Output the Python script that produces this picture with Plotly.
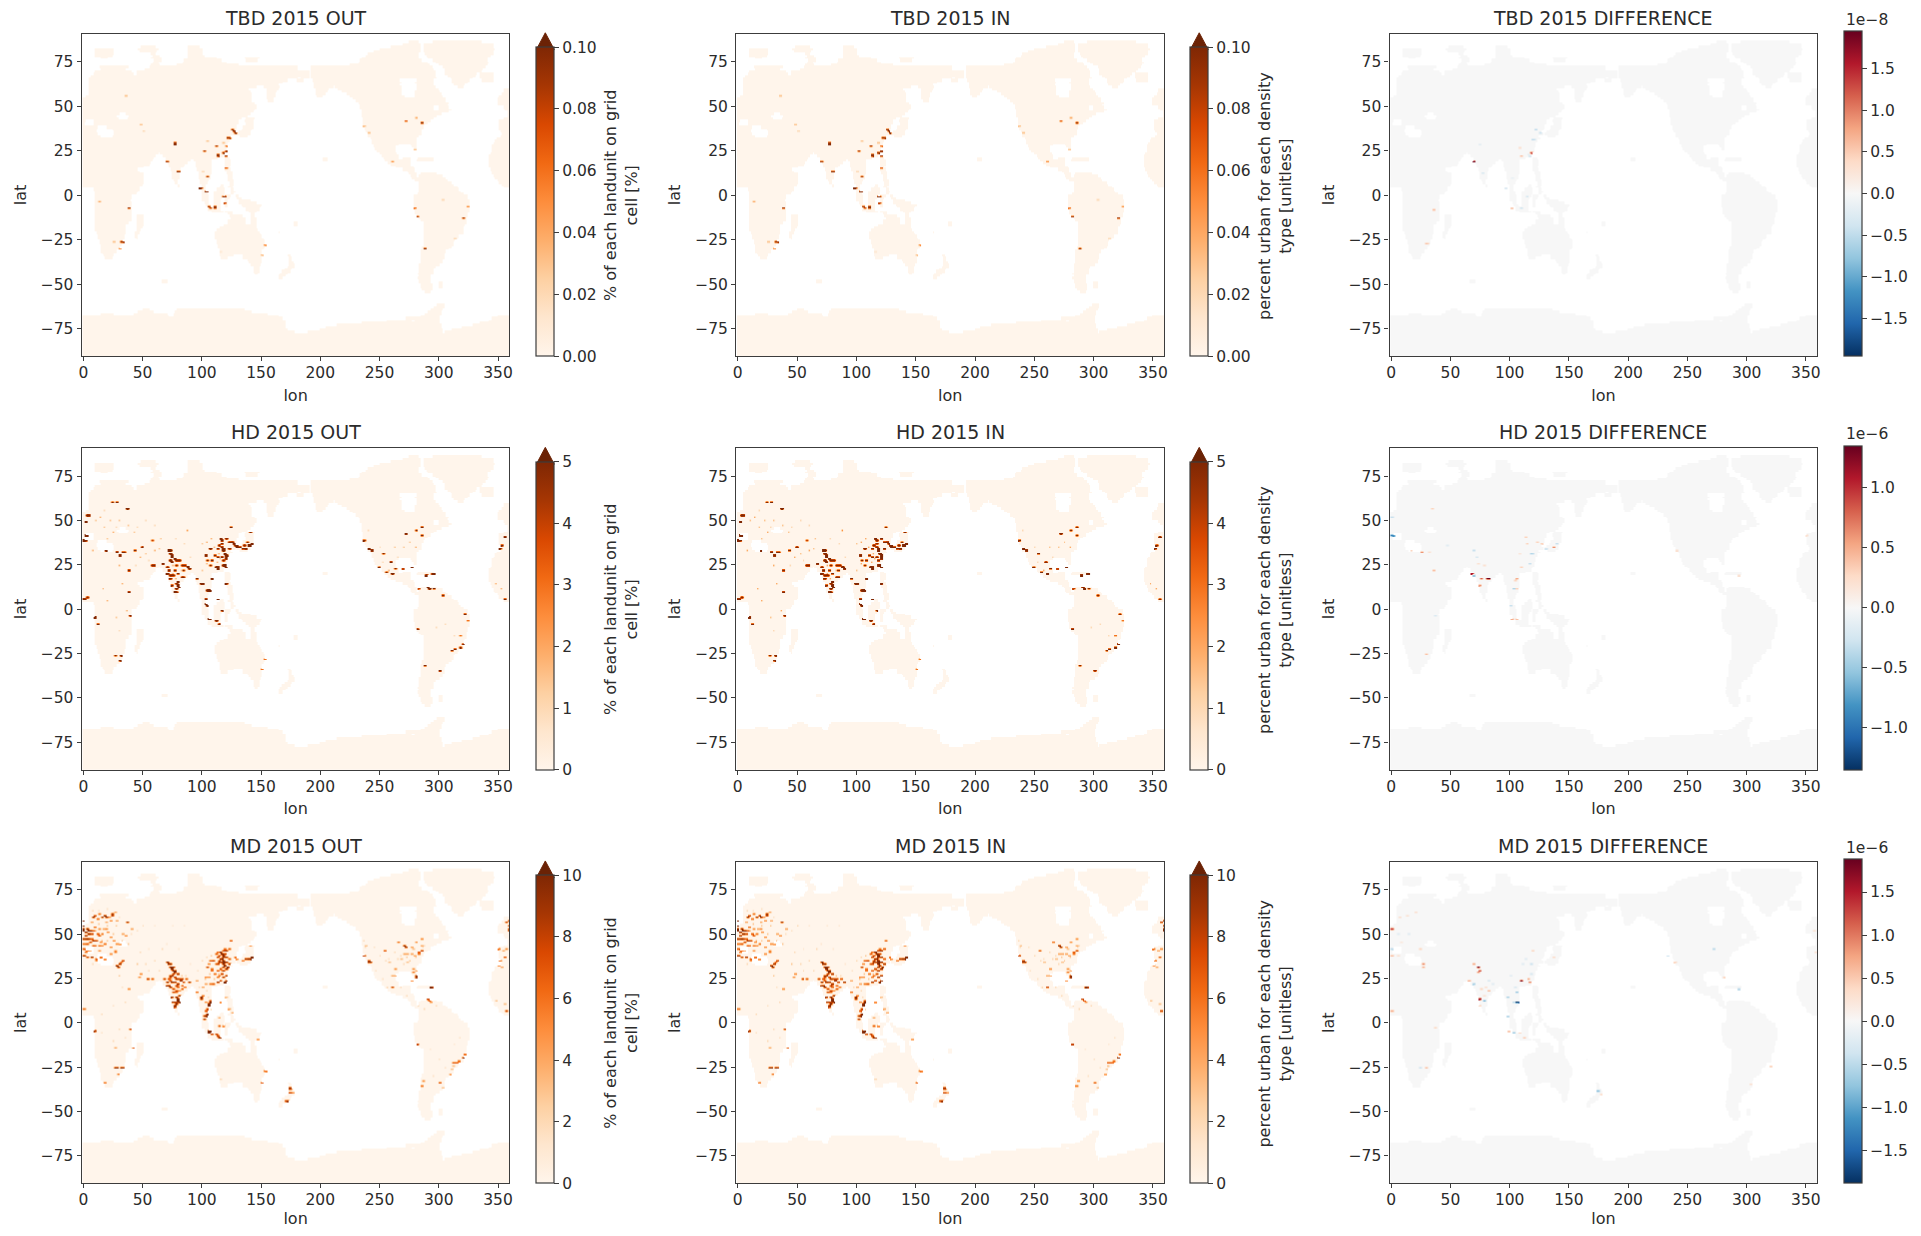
import numpy as np
import plotly.graph_objects as go

# Land outline: latitude band -> longitude spans
land_spans = {
 86: [(275,283),(295,335)],
 85: [(270,284),(287,345)],
 83.75: [(48,60),(88,98),(260,284),(287,346)],
 82.5: [(9,25),(46,63),(88,100),(250,284),(287,347)],
 81.25: [(9,25),(47,62),(88,100),(245,284),(287,346)],
 80: [(9,25),(57,60),(88,100),(240,283),(288,345)],
 78.75: [(9,24),(58,64),(88,102),(238,283),(290,343)],
 77.5: [(14,20),(57,66),(88,112),(136,148),(235,283),(291,340)],
 76.25: [(60,66),(85,117),(137,147),(233,285),(294,341)],
 75: [(58,63),(83,120),(232,290),(297,342)],
 73.75: [(57,64),(78,130),(225,292),(300,341)],
 72.5: [(13,38),(56,180),(192,294),(303,339)],
 71.25: [(15,36),(52,180),(192,295),(304,337)],
 70: [(10,41),(45,190),(192,297),(304,335)],
 68.75: [(8,42),(44,190),(192,297),(305,332),(335,346)],
 67.5: [(6,190),(192,297),(307,330),(335,346)],
 66.25: [(5,180),(183,190),(192,298),(309,328),(335,346)],
 65: [(5,172),(180,185),(193,267),(281,295),(311,325),(336,345)],
 63.75: [(4,168),(194,268),(280,295),(311,324)],
 62.5: [(4,164),(195,267),(281,295),(312,322)],
 61.25: [(4,146),(152,165),(195,210),(212,268),(281,297),(316,320)],
 60: [(4,139),(154,164),(196,207),(214,268),(281,299),(355,360)],
 58.75: [(4,140),(154,163),(196,205),(218,268),(280,300),(355,360)],
 57.5: [(4,142),(154,162),(196,204),(222,268),(280,302),(353,360)],
 56.25: [(2,142),(155,162),(197,202),(224,270),(279,303),(351,360)],
 55: [(0,142),(155,161),(227,305),(349,360)],
 53.75: [(0,142),(156,160),(229,306),(349,360)],
 52.5: [(0,144),(232,308),(349,360)],
 51.25: [(0,145),(233,307),(350,360)],
 50: [(0,145),(233,296),(300,308),(355,360)],
 48.75: [(0,144),(234,296),(300,310),(356,360)],
 47.5: [(0,143),(235,308),(358,360)],
 46.25: [(0,30),(36,140),(235,302),(358,360)],
 45: [(0,28),(38,138),(235,298),(358,360)],
 43.75: [(0,29),(37,133),(137,144),(236,295),(355,360)],
 42.5: [(0,2),(8,130),(136,143),(236,293),(351,360)],
 41.25: [(0,1),(8,130),(137,143),(236,290),(351,360)],
 40: [(0,1),(8,129),(137,143),(236,288),(351,360)],
 38.75: [(0,12),(20,129),(135,143),(237,287),(351,360)],
 37.5: [(0,11),(25,128),(133,142),(237,286),(351,360)],
 36.25: [(0,11),(26,127),(131,141),(238,285),(352,360)],
 35: [(0,12),(26,128),(130,140),(239,285),(353,360)],
 33.75: [(0,14),(24,124),(132,138),(240,283),(352,360)],
 32.5: [(0,125),(242,281),(348,360)],
 31.25: [(0,123),(243,280),(347,360)],
 30: [(0,122),(243,280),(346,360)],
 28.75: [(0,122),(244,265),(276,280),(345,360)],
 27.5: [(0,122),(245,263),(277,281),(345,360)],
 26.25: [(0,121),(246,263),(278,281),(345,360)],
 25: [(0,120),(247,263),(344,360)],
 23.75: [(0,63),(64,119),(250,264),(343,360)],
 22.5: [(0,61),(67,118),(252,265),(342,360)],
 21.25: [(0,59),(69,113),(120,123),(202,205),(253,265),(269,275),(282,296),(342,360)],
 20: [(0,58),(70,90),(93,108),(120,124),(202,205),(255,276),(281,296),(342,360)],
 18.75: [(0,57),(71,88),(94,108),(120,124),(257,276),(342,360)],
 17.5: [(0,56),(72,86),(94,108),(120,124),(259,276),(342,360)],
 16.25: [(0,50),(72,84),(95,108),(120,123),(263,278),(342,360)],
 15: [(0,45),(73,82),(96,108),(120,124),(269,279),(343,360)],
 13.75: [(0,47),(74,81),(97,108),(121,125),(273,279),(344,360)],
 12.5: [(0,51),(74,81),(97,108),(121,126),(275,281),(284,298),(345,360)],
 11.25: [(0,51),(75,80),(97,107),(122,126),(276,281),(283,303),(346,360)],
 10: [(0,50),(75,80),(97,107),(122,126),(277,305),(347,360)],
 8.75: [(0,50),(76,79),(98,105),(122,127),(279,307),(349,360)],
 7.5: [(0,50),(77,79),(98,104),(123,127),(283,310),(351,360)],
 6.25: [(0,49),(79,81),(99,103),(116,118),(123,127),(283,312),(353,360)],
 5: [(0,47),(80,81),(99,103),(115,118),(122,126),(283,315),(355,360)],
 3.75: [(8,47),(100,103),(112,119),(125,127),(283,317)],
 2.5: [(9,46),(100,104),(109,119),(125,128),(283,318)],
 1.25: [(9,44),(100,104),(109,119),(124,127),(282,320)],
 0: [(9,41),(100,105),(109,118),(120,124),(128,131),(278,324)],
 -1.25: [(9,40),(100,105),(109,117),(120,123),(129,133),(278,324)],
 -2.5: [(9,39),(100,106),(109,116),(119,122),(131,140),(278,325)],
 -3.75: [(9,40),(102,106),(110,116),(120,122),(131,145),(278,325)],
 -5: [(9,41),(103,107),(110,115),(120,122),(133,150),(278,325)],
 -6.25: [(9,41),(105,115),(120,122),(135,149),(278,325)],
 -7.5: [(9,41),(105,116),(137,148),(279,325)],
 -8.75: [(9,41),(108,118),(120,126),(139,146),(279,325)],
 -10: [(9,41),(122,126),(141,144),(280,324)],
 -11.25: [(9,41),(44,50),(123,134),(141,144),(281,324)],
 -12.5: [(9,41),(44,50),(124,137),(141,145),(283,323)],
 -13.75: [(9,40),(44,50),(122,137),(141,145),(285,323)],
 -15: [(9,38),(44,50),(122,137),(141,145),(177,180),(287,323)],
 -16.25: [(10,36),(44,50),(118,139),(140,146),(177,180),(287,322)],
 -17.5: [(10,35),(44,49),(114,146),(287,321)],
 -18.75: [(10,35),(44,48),(112,147),(287,321)],
 -20: [(11,35),(43,47),(111,148),(164,166),(287,321)],
 -21.25: [(11,35),(43,47),(111,149),(287,320)],
 -22.5: [(12,34),(43,46),(111,150),(287,317)],
 -23.75: [(12,34),(44,46),(111,152),(287,315)],
 -25: [(13,33),(112,153),(287,313)],
 -26.25: [(13,33),(112,153),(287,312)],
 -27.5: [(14,32),(113,153),(287,312)],
 -28.75: [(14,31),(113,153),(286,310)],
 -30: [(15,30),(114,152),(286,308)],
 -31.25: [(15,28),(114,151),(285,306)],
 -32.5: [(16,25),(114,150),(285,304)],
 -33.75: [(17,25),(115,127),(134,150),(172,174),(285,304)],
 -35: [(18,24),(116,122),(135,150),(173,175),(284,304)],
 -36.25: [(138,150),(173,176),(284,303)],
 -37.5: [(140,150),(173,177),(284,303)],
 -38.75: [(141,149),(173,178),(283,300)],
 -40: [(143,148),(172,178),(283,297)],
 -41.25: [(143,148),(170,176),(283,296)],
 -42.5: [(143,148),(167,174),(283,296)],
 -43.75: [(144,147),(166,172),(282,295)],
 -45: [(165,170),(283,293)],
 -46.25: [(165,168),(282,293)],
 -47.5: [(66,70),(283,293)],
 -48.75: [(66,70),(283,293),(299,303)],
 -50: [(284,294),(299,303)],
 -51.25: [(284,294),(299,303)],
 -52.5: [(286,294)],
 -53.75: [(288,293)],
 -61.25: [(298,304)],
 -62.5: [(296,304)],
 -63.75: [(50,56),(78,135),(293,303)],
 -65: [(46,59),(77,142),(291,302)],
 -66.25: [(14,25),(42,70),(76,155),(288,302)],
 -67.5: [(0,72),(76,164),(284,301),(350,360)],
 -68.75: [(0,168),(272,301),(345,360)],
 -70: [(0,170),(256,277),(279,301),(342,360)],
 -71.25: [(0,170),(235,301),(335,360)],
 -72.5: [(0,170),(213,255),(256,302),(328,360)],
 -73.75: [(0,171),(205,302),(320,360)],
 -75: [(0,172),(200,303),(311,360)],
 -76.25: [(0,178),(190,303),(305,360)],
 -77.5: [(0,360)], -80: [(0,360)], -82.5: [(0,360)], -85: [(0,360)], -87.5: [(0,360)], -90: [(0,360)],
}

# Urban hot cells: (lon, lat, value)
tbd_cells = [(35.6,56,.03),(48,40,.03),(49.4,36,.02),(76,29,.1),(76,30,.09),(70.6,19.6,.09),(79,13.5,.1),(80.2,13.5,.09),
 (37.4,-7,.09),(31,-25.8,.1),(32.3,-25.8,.09),(29.5,-29.4,.05),(13,-3.5,.04),(25,-25.6,.03),(124.8,37.4,.1),(125.8,36.7,.1),
 (126.5,36,.1),(127.9,35.5,.1),(121,32.4,.1),(122,32.4,.09),(110.7,27.7,.09),(101.5,25,.09),(112.4,23,.1),(112.4,22,.09),
 (117,23.8,.1),(119.6,22.4,.09),(120,25.2,.09),(120,27.7,.06),(104,30.3,.03),(118,29.5,.03),(120.3,15.3,.07),(104,10.8,.09),
 (98,4,.1),(99.2,4,.09),(103,1.9,.1),(104.2,1.9,.09),(117,0,.1),(118.2,0,.09),(119,-4.7,.08),(105,-6.5,.09),(106.2,-7.4,.08),
 (110,-6.5,.1),(110,-7.4,.09),(100,14,.02),(271,41.9,.07),(280,44,.04),(285,41,.1),(236,38.7,.03),(240,35,.03),(260,19.6,.05),
 (279,25.8,.03),(278.7,-6.9,.06),(281.5,-11.6,.09),(287.3,-29.4,.1),(323.6,-6.5,.05),(320,-12.5,.09),(312.3,-24,.02),
 (303,-1.9,.02),(152.9,-27.7,.05),(149.5,-33,.03),(114.5,-32,.01)]

hd_cells = [(3,53,9),(4,53.5,8),(1.5,49.3,10),(1.5,42,10),(2.7,42,8),(0,39.1,10),(1.5,39.1,6),(18.3,33.5,10),(28,32.6,8),(29.5,30.5,9),
 (32.3,32.7,6),(33.5,32.7,6),(35.7,57,10),(24,60.7,5),(27.6,60.7,5),(42,33.9,5),(49.1,35.7,8),(57.5,39.5,4),(37.4,22.2,7),(57.5,25,8),(59,25,8),
 (70.7,33.9,10),(72,33,10),(73,32,9),(74,31,8),(73.8,29.7,10),(76,28.5,9),(78,28,8),(80,27.9,8),(66,25.8,9),(70,24,8),(70.1,20.7,9),(71,22,8),
 (72.1,18.9,8),(82.7,18,8),(84,18.5,7),(87,23.9,10),(88.5,23,9),(85,25,7),(79.1,15.1,10),(79.1,14,10),(79.4,12.5,10),(76.6,9.9,10),(78,9.5,8),(74.3,13.3,6),
 (106.5,34.8,9),(115,40.4,9),(116,39,8),(120.5,40,8),(119.1,32,10),(120.3,31,10),(117.7,33,10),(119.7,29.2,9),(120.5,30,8),(112.1,30.1,7),(110.7,23.6,10),(112,23.2,10),(113,24,9),
 (119.1,25.4,10),(117.7,25,9),(120,24.5,9),(107.4,17.4,9),(103,30.9,9),(127.5,36.7,8),(128.7,36,8),(129,35,7),(124.7,38.6,8),(140.2,36.7,10),(139,36,10),(141.2,37,9),(136,34.8,9),(133.2,34.8,7),
 (140.2,43.8,6),(123.4,47,5),(119.7,15,8),(99,14.2,10),(100,14.2,9),(105.2,11,10),(106.5,11.3,10),(104,11,9),(103,5.7,8),(103.7,2.4,10),(102.5,3,9),(113,6.1,8),(105.2,-5.2,10),
 (106.5,-5.5,8),(110.7,-6.5,9),(114,-8,8),(116.4,-0.8,5),(39.3,-3.7,8),(37.4,9.9,8),(9,-4.6,9),(11.3,-8.3,6),(2,7.2,7),(0,6.1,9),(95.3,17,6),
 (236.8,39,5),(240.5,34.2,10),(242.1,33.1,9),(271,43,9),(284.4,46.6,6),(279.7,44.6,5),(284.4,41.9,5),(252.2,32,5),(259.2,26.8,8),(260.6,20.7,10),(255,21.1,5),(248.6,24.5,5),
 (262.6,23.2,5),(268.5,23,4),(276.6,24.5,7),(288.6,19.2,9),(293.4,19.8,6),(294.5,19.8,6),(291.4,11.7,10),(290,12.3,8),(295,12,5),(283,12,4),(302,8,6),(321.4,-2.3,6),(323.7,-6.5,3),(281.6,-11.2,8),
 (355.3,41.4,9),(353,36.7,6),(350.8,34.3,5),(355.3,6.1,6),(31,-25.8,9),(26,-25.8,5),(29.5,-29,5),(320,-19.5,8),(318,-21,5),(313,-22.5,6),(310,-23,5),(300.5,-34,8),(288,-32,5),(317,-15,3),
 (150,-33,3),(153,-27.5,3),
 (72,28,9),(74,27,8),(77,25,6),(82,25,7),(76,22,6),(79,20,6),(75,19,7),(73,17,8),(77,15,7),(77,12,9),(84,22,5),
 (114,36,8),(116,35,8),(118,34,9),(116,30,8),(118,28,7),(112,34,7),(110,31,6),(108,28,6),(122,34,8),(116,37,7),(123,38,7),(104,28,5),(106,25,5),
 (126,37,8),(131,35,7),(135,36,8),(138,38,5)]

hd_faint = [(14,52,2),(10,50,1.5),(18,47,1.5),(22,50,1.5),(30,50,1.5),(38,48,1.5),(17,56,1),(20,40,1.5),(25,44,2),(28,47,1),(42,44,1.5),(45,47,1),(52,50,1),(60,48,1),
 (65,40,1.5),(48,30,2),(52,32,1.5),(44,25,1),(55,28,1),(60,33,2),(64,34,1.5),(77,40,1),(85,37,1),(88,45,2.5),(100,37,1.5),(104,38,2),(108,40,2),(110,35,2),(114,32,2),
 (104,26,2),(100,22,1.5),(107,28,2),(112,27,2),(115,29,2),(90,30,1),(75,25,2),(78,22,2),(83,22,2),(75,20,2),(77,17,2),(240,45,1),(262,35,1.5),(275,38,1.5),(270,35,1.5),(280,35,2),(250,35,1),(265,30,1),(258,22,2),(252,27,1),
 (298,-10,1),(305,-8,1),(312,-15,1),(30,-12,1),(20,5,2),(36,0,2),(27,-4,1.5),(16,12,2),(33,15,2),(30,25,2),(8,33,2),(347,15,2),(352,12,2)]

md_cells = [(8.5,60.7,8),(8,59.7,10),(17,60.7,10),(18.3,60.3,10),(15.5,59.7,9),(24,61.6,9),(23.5,60.7,8),(35.7,56.6,9),(2,53.2,10),(1,51.3,10),(3.7,50.4,10),(5,52.2,10),(3.5,52.5,10),(1,49.5,9),(6,50,8),
 (7,47,9),(10,46.6,8),(5.5,46,8),(12.7,49.4,7),(15.5,50.4,6),(18.3,53.2,5),(14,46,5),(0,38,9),(2,37,8),(1,40,6),(6,37,9),(10,36,7),(28,32.5,10),(29.2,31.5,10),(30,33,9),(32.3,35.3,8),(31,34,6),(10,35.3,5),(26.7,41,5),(35,49.4,5),(22.5,39,5),(14,37.5,6),(18,36,5),
 (358.7,58,10),(358.7,55,10),(359,53,10),(358.5,52,10),(355.9,57,8),(350.3,41.5,6),(356,42,5),(354,41,4),(351.7,35.4,6),(354.5,37.2,7),(349.7,32.2,5),(353,32,4),(356,7,8),(359.5,8,6),(348,13,3),(355,11,3),
 (70,34.6,10),(71,33.8,10),(72.1,33,10),(73,32,10),(73.8,31,10),(75,31.5,9),(74.9,29.7,10),(76.6,28.8,10),(78.5,27.8,9),(76,30,10),(67.3,25,8),(70,23.2,10),(71,21.3,10),(72.1,19.8,10),(69.8,21,9),(75.7,23.2,9),(78.5,22.2,9),(81.3,24,9),(84.1,22.8,8),(88.3,23.5,9),
 (82.7,19.4,7),(85.5,20,6),(80,18,5),(74.3,14.7,9),(78.5,13.8,10),(79.4,15.3,10),(77.5,14.5,10),(78.5,12.3,10),(79.5,12,10),(76.6,10,10),(75.7,8.5,8),(75,17,8),(53.3,25,8),(57.5,24.7,7),(48,28,5),(46,26,5),(38,19,5),
 (115,40,10),(116,39,10),(117.7,38.2,10),(120.5,41,9),(119,39.5,8),(116.4,36.3,10),(119.1,34.4,10),(120.2,34,10),(119.1,32.5,10),(120.5,31,10),(121,32,10),(118,35,10),(118,33.5,10),(110.7,39,7),(109.3,35.4,8),(113.5,35.4,8),(112,37,7),(106.5,35.4,7),(103.7,31.6,8),(112.1,29.7,7),(117.7,26,9),(119.7,26.9,9),
 (115,23.7,8),(112.1,23.5,9),(119.1,23.5,10),(119.5,24.5,9),(106,22,6),(123.4,47,7),(122,41.9,7),(136,35.9,9),(138.8,36.7,10),(140,36.7,10),(141.5,37.2,10),(137.5,36,9),(134,35.6,6),(140.2,43.8,5),(127.5,37.2,6),(129,36,5),
 (99,14.7,10),(99,13.5,9),(106.5,11.9,10),(105.3,11,10),(104.6,10,10),(103.7,5.3,10),(102.5,4,10),(101,2.5,9),(95.3,17.5,6),(115,12,5),(106.5,-4.2,10),(105.3,-4.2,10),(104.6,-5,10),(110.7,-5.7,8),(113.5,-7.9,10),(114.5,-7.9,9),(145.8,-8.8,4),(113.5,-1.3,7),(125,6,4),(120,15,3),
 (9.3,-3.8,9),(39.3,-3,8),(40.7,-13.9,7),(26,-14,4),(25.9,-24.8,10),(27,-24.8,10),(31.2,-24.8,10),(32.3,-24.8,9),(29,-29,6),(17.2,-33.2,6),(152.2,-27.2,6),(153.2,-27.2,5),(150,-33.2,7),(115,-31.4,2),(173.8,-36,9),(173.8,-37,8),(173.8,-38.9,8),(176.6,-38.9,5),(171.5,-43.4,9),(170.5,-43.4,7),
 (281.6,-11.7,8),(320.9,-17.3,6),(319.5,-19.7,10),(316.6,-21.6,6),(311.6,-22,7),(313.3,-22.5,7),(315,-22.5,6),(308.8,-29,4),(300.4,-33.6,7),(286.7,-32.7,5),(284.7,-35,6),(311,-24,3),(310,-26,3),(303,-36,3),
 (236.8,38.5,8),(240.5,34.8,10),(241.6,34,10),(240,35.5,8),(270.4,43.8,10),(271,42.9,9),(284.4,41,8),(283,40.4,7),(282,39.5,6),(276,42.9,4),(277.5,42.4,3),(253.6,40.6,7),(264.8,46,6),(280.2,45.7,5),(284.4,47.2,5),(262,30.7,5),(260.6,26.9,4),(262,26.9,4),(277.4,31,5),(278,29,6),(279.7,26.9,10),(279.7,25.7,9),(260.6,20.3,8),(292.8,19.8,10),(294,19.8,8),(290,13.4,8),(291.4,12.8,7),(293,12,5),(276,24,5),
 (0,48,9),(2,48,10),(4,48,8),(6,48,7),(0,45,6),(3,45,7),(7,44,7),(9,44,6),(12,44,6),(15,44,5),(11,50,7),(8,52,7),(9,54,6),(12,53,5),(16,53,4),(20,51,5),(22,49,5),(25,47,5),(28,45,5),(18,45,6),(22,43,5),(26,40,6),(0,42,7),(2,41,6),(5,41,4),(12,41,5),(30,45,4),(33,50,4),(40,53,4),(22,58,5),(28,58,4),(13,62,6),(11,59,6),(26,63,4),(21,60,5),(19,57,4),(6,57,4),
 (72,27,9),(74,27,9),(76,26,8),(78,25,9),(80,25,8),(83,25,8),(86,25,7),(74,23,10),(77,21,8),(79,20,7),(73,24,7),(75,19,8),(77,18,8),(80,16,8),(78,17,7),(82,21,7),(75,28,8),(73,26,8),(71,25,7),(75,12,9),(77,12,8),(78,11,10),
 (112,40,6),(114,38,8),(113,37,8),(115,36,9),(114,34,9),(116,34,9),(117,32,9),(115,31,8),(113,33,8),(111,33,7),(108,31,6),(122,33,9),(118,30,9),(116,28,8),(114,27,6),(110,28,6),(107,30,6),(105,33,5),(118,37,9),(120,37,9),(122,36,7),(117,41,8),(119,42,6),(113,26,6),(109,22,7),(105,26,5),(102,26,5),(103,22,4),(100,20,4),(95,24,4),
 (100,16,6),(103,12,5),(106,13,8),(104,8,8),(102,7,7),(101,4,8),(108,-6,8),(112,-7,8),(117,-1,5),(114,3,4),(122,8,4),
 (270,39,4),(273,39,4),(276,39,4),(279,38,4),(268,36,3),(272,34,3),(258,34,3),(280,30,4),(237,44,3),(285,44,4)]

md_faint = [(8,64,2),(13,64,1.5),(20,65,1.5),(27,63,2),(12,56,3),(20,55,3),(27,55,3),(30,60,1.5),(10,52,3),(15,47,4),(20,47,3),(25,50,3),(32,47,3),(40,50,1.5),(38,45,3),(45,52,1.5),(50,55,2),(60,55,1),(75,55,1),(85,55,1),(48,40,2),(55,42,1),(66,42,2),(70,45,1),(80,42,1),(52,33,2),(45,33,3),(55,30,2),(64,30,2),(60,35,2),
 (90,33,1),(96,30,1.5),(100,35,2),(104,37,2),(108,38,3),(112,33,3),(114,28,3),(106,28,3),(102,25,3),(110,25,3),(116,30,3),(98,20,2),(104,18,2),(82,27,3),(86,27,2),(80,21,3),(74,25,3),(77,20,3),(84,19,2),(105,15,2),(107,8,2),
 (238,43,2),(236,47,2),(245,43,1.5),(250,38,2),(255,35,2),(262,40,2),(268,38,2),(272,37,3),(275,35,3),(280,37,3),(286,43,2),(288,44,2),(258,36,1.5),(265,36,2),(270,33,2),(246,30,1.5),(252,25,1.5),(256,20,2),(268,20,2),(272,16,2),(283,10,2),(288,8,2),(297,10,2),
 (15,-5,1.5),(30,-3,2),(35,-8,1.5),(25,-10,2),(15,5,2),(25,10,1.5),(35,12,2),(32,20,1.5),(30,27,3),(8,33,2),(300,-20,1.5),(305,-25,1.5),(295,-30,1.5),(292,-15,1),(312,-12,1),(318,-8,1.5)]

tbd_diff_cells = [(68.2,19.2,1.95),(117.7,24.5,1.3),(109.3,22.4,.6),(108,27,.3),(121.4,37.2,-.5),(124.7,35.5,-.4),(118.3,31.8,-.5),(119.5,31.8,-.4),(115,23.3,-.2),(116.4,22.4,-.3),(76.6,13,-.3),(73.8,28.6,-.2),(101.5,10.2,-.15),(95.9,4.2,-.25),(114,-.5,-.35),(101.8,-6.7,.5),(108.5,-7,-.4),(34.6,-7.6,.6),(28.7,-26.4,.6),(30,-26.4,.4)]

hd_diff_cells = [(80.8,17.8,1.35),(79.8,17.8,1.2),(67.9,20.4,1.1),(74.9,17.8,.8),(73.5,13.3,.6),(69.3,19.3,-.5),(68.2,33.3,-.3),(25.3,32.6,.6),(34.6,22.3,.4),(16,33.3,.3),(105.1,17.2,.5),(104,16.5,.3),(102.9,11.6,-.4),(104.5,11.6,.3),(100,2,-.3),(101.8,-5.5,.5),(105.1,-5,.4),(136.8,35.8,.6),(138.2,37.3,-.3),(130.4,34.8,-.25),(126.2,37,.3),(122.8,38.6,.3),(117.7,32,-.4),(119,32,-.3),(116.4,25.8,-.3),(109.3,24,.3),(113.5,37,.3),(112.1,41,.3),(33.4,57.3,.3),(0.2,42,-.9),(1.2,42,-.6),(.2,52.6,-.3),(28.7,-25.2,.4),(36,-3.6,-.2),(46.3,36.1,-.15),(31,32.4,.2),(72,26,.2),(78,25,.2),(71,30,-.2),(108,32,.15),(350,42,.2),(240,33,.2),(293,19,.2)]

md_diff_cells = [(.1,53.4,1.4),(72.1,31.8,1.88),(73.5,30.1,1.2),(68.7,33.9,.7),(72.4,28.4,.9),(65.4,23.6,.7),(68.2,21.7,-.6),(73.5,14,1.6),(76.9,12.7,-.9),(77.9,12.7,-.7),(74.3,9.5,.4),(80.8,18.3,.6),(74.9,18.9,.4),(81.3,24.5,-.3),(109.3,23.8,1.85),(115,25.4,.7),(116.4,23,.9),(105.1,17.8,-.7),(105.1,12.1,-1.88),(106.3,12.1,-1.6),(102.9,11.9,-.5),(97.6,14.4,-.6),(97.6,3.9,-.5),(102.3,-5,-.7),(99,-4.6,.5),(108,-5.1,.4),(111.6,-7.9,.5),(25.9,33,.9),(26.5,32,.7),(23.9,41.8,.4),(.1,41.8,-.5),(0,38.6,.6),(5,38.6,.3),(0,6.7,.7),(23.3,-25,-.4),(28.7,-25,.6),(118.6,41.4,.4),(117.7,33,-.4),(136.8,37,.35),(233,38.6,-.4),(239,34.4,.4),(6,60,.3),(13,61,.3),(20,63,.3),(36.5,-2.4,.4),
 (271,41.8,-.5),(293,19,-.5),(280,26,.4),(174,-38,-.8),(176,-40,.3),(320,-24,.4),(303,-34,.3),(356,52,.3),(357,40,.3),(14,50,-.2),(8,46,.2),(5,50,-.2),(110,33,-.2),(112,36,-.2),(118,28,-.3),(100,27,-.2),(104,20,-.3),(85,22,-.2),(79,20,.3),(78,16,.3)]

# Panels
titles = ["TBD 2015 OUT","TBD 2015 IN","TBD 2015 DIFFERENCE",
          "HD 2015 OUT","HD 2015 IN","HD 2015 DIFFERENCE",
          "MD 2015 OUT","MD 2015 IN","MD 2015 DIFFERENCE"]
out_label = "% of each landunit on grid<br>cell [%]"
in_label = "percent urban for each density<br>type [unitless]"
orange_max = [0.1, 5, 10]
orange_ticks = [[0,0.02,0.04,0.06,0.08,0.1],[0,1,2,3,4,5],[0,2,4,6,8,10]]
orange_ticktext = [["0.00","0.02","0.04","0.06","0.08","0.10"],["0","1","2","3","4","5"],["0","2","4","6","8","10"]]
diff_max = [1.95, 1.35, 1.88]
diff_exp = ["1e\u22128","1e\u22126","1e\u22126"]
diff_ticks = [[-1.5,-1,-.5,0,.5,1,1.5],[-1,-.5,0,.5,1],[-1.5,-1,-.5,0,.5,1,1.5]]
diff_ticktext = [["\u22121.5","\u22121.0","\u22120.5","0.0","0.5","1.0","1.5"],["\u22121.0","\u22120.5","0.0","0.5","1.0"],["\u22121.5","\u22121.0","\u22120.5","0.0","0.5","1.0","1.5"]]
lon_ticks = [0,50,100,150,200,250,300,350]
lat_ticks = [-75,-50,-25,0,25,50,75]

ORANGES = ["#fff5eb","#fee6ce","#fdd0a2","#fdae6b","#fd8d3c","#f16913","#d94801","#a63603","#7f2704"]
RDBU = ["#053061","#2166ac","#4393c3","#92c5de","#d1e5f0","#f7f7f7","#fddbc7","#f4a582","#d6604d","#b2182b","#67001f"]
TEXT = "#2b2b2b"; FRAME = "#3c3c3c"; FONT = "DejaVu Sans"

W, H = 1921, 1236
PAGE = 8   # the page body adds this much margin on every side
FW, FH = W-2*PAGE, H-2*PAGE
col_x = [(79,508),(735.5,1165),(1391,1820)]
row_y = [(34,359),(452,776),(869,1193)]
cbar_x = [535,1191,1847]
label_x = [620,1276]

lons = np.arange(288)*1.25
lats = -90 + np.arange(192)*180/191
band_keys = np.array(sorted(land_spans))

def base_grid():
    g = np.full((lats.size, lons.size), np.nan)
    for i, la in enumerate(lats):
        k = band_keys[np.abs(band_keys-la).argmin()]
        if abs(k-la) > 1.3:
            continue
        for lo, hi in land_spans[float(k)]:
            g[i, (lons >= lo) & (lons <= hi)] = 0.0
    return g

def paint(g, cells, wide):
    for lon, lat, v in cells:
        j = int(round((lon % 360)/1.25)) % lons.size
        i = int(np.abs(lats-lat).argmin())
        for k in range(wide):
            jj = (j+k) % lons.size
            if np.isnan(g[i, jj]) or abs(v) >= abs(g[i, jj]):
                g[i, jj] = v
    return g

orange_grids = [paint(base_grid(), tbd_cells, 2),
                paint(paint(base_grid(), hd_faint, 1), hd_cells, 2),
                paint(paint(base_grid(), md_faint, 1), md_cells, 2)]
diff_grids = [paint(base_grid(), tbd_diff_cells, 2), paint(base_grid(), hd_diff_cells, 2), paint(base_grid(), md_diff_cells, 2)]

def px(x): return (x-PAGE)/FW
def py(y): return 1-(y-PAGE)/FH

fig = go.Figure()
layout = {}
ann = []
shapes = []
for r in range(3):
    for c in range(3):
        n = 3*r+c+1
        xa, ya = ("x","y") if n == 1 else (f"x{n}", f"y{n}")
        if c < 2:
            cs = [[i/(len(ORANGES)-1), col] for i, col in enumerate(ORANGES)]
            z, zmin, zmax = orange_grids[r], 0, orange_max[r]
            tv, tt = orange_ticks[r], orange_ticktext[r]
            top = row_y[r][0]+16
        else:
            cs = [[i/(len(RDBU)-1), col] for i, col in enumerate(RDBU)]
            z, zmin, zmax = diff_grids[r], -diff_max[r], diff_max[r]
            tv, tt = diff_ticks[r], diff_ticktext[r]
            top = row_y[r][0]
        bottom = row_y[r][1]
        fig.add_trace(go.Heatmap(x=lons, y=lats, z=z, zmin=zmin, zmax=zmax, colorscale=cs, xaxis=xa, yaxis=ya,
            zsmooth="best", hoverinfo="skip",
            colorbar=dict(x=px(cbar_x[c]), xanchor="left", xpad=0, y=py(bottom), yanchor="bottom", ypad=0,
                lenmode="pixels", len=bottom-top, thicknessmode="pixels", thickness=18,
                outlinecolor=FRAME, outlinewidth=1.2, ticks="outside", ticklen=5, tickwidth=1.2, tickcolor=FRAME,
                tickmode="array", tickvals=tv, ticktext=tt, tickfont=dict(size=15.5, color=TEXT, family=FONT))))
        x0, x1 = col_x[c]; y0, y1 = row_y[r]
        sx, sy = ("xaxis","yaxis") if n == 1 else (f"xaxis{n}", f"yaxis{n}")
        layout[sx] = dict(domain=[px(x0),px(x1)], anchor=ya, range=[-1.3,359.6], tickmode="array", tickvals=lon_ticks,
            ticks="outside", ticklen=4, tickwidth=1.2, tickcolor=FRAME, showgrid=False, zeroline=False, ticklabelstandoff=-2,
            showline=True, linecolor=FRAME, linewidth=1.4, mirror=True, tickfont=dict(size=15.5,color=TEXT,family=FONT),
            title=dict(text="lon", font=dict(size=16,color=TEXT,family=FONT), standoff=8))
        layout[sy] = dict(domain=[py(y1),py(y0)], anchor=xa, range=[-90.5,90.8], tickmode="array", tickvals=lat_ticks,
            ticks="outside", ticklen=4, tickwidth=1.2, tickcolor=FRAME, showgrid=False, zeroline=False,
            showline=True, linecolor=FRAME, linewidth=1.4, mirror=True, tickfont=dict(size=15.5,color=TEXT,family=FONT),
            title=dict(text="lat", font=dict(size=16,color=TEXT,family=FONT), standoff=10))
        ann.append(dict(x=px((x0+x1)/2), y=py(y0-3), xref="paper", yref="paper", xanchor="center", yanchor="bottom",
            text=titles[n-1], showarrow=False, font=dict(size=19,color=TEXT,family=FONT)))
        cx = cbar_x[c]
        if c < 2:
            ann.append(dict(x=px(label_x[c]), y=py((y0+y1)/2+1), xref="paper", yref="paper", xanchor="center", yanchor="middle",
                text=out_label if c == 0 else in_label, textangle=-90, showarrow=False,
                font=dict(size=16,color=TEXT,family=FONT)))
            shapes.append(dict(type="path", xref="paper", yref="paper", fillcolor="#6b2205",
                line=dict(color="#6b2205", width=1),
                path=f"M {px(cx)} {py(top)} L {px(cx+18)} {py(top)} L {px(cx+9)} {py(y0-1)} Z"))
        else:
            ann.append(dict(x=px(cx), y=py(y0-3), xref="paper", yref="paper", xanchor="left", yanchor="bottom",
                text=diff_exp[r], showarrow=False, font=dict(size=15.5,color=TEXT,family=FONT)))

fig.update_layout(width=FW, height=FH, autosize=False, margin=dict(l=0,r=0,t=0,b=0), paper_bgcolor="white", plot_bgcolor="white",
    showlegend=False, font=dict(family=FONT,color=TEXT), annotations=ann, shapes=shapes, **layout)
fig.write_html("out.html")
